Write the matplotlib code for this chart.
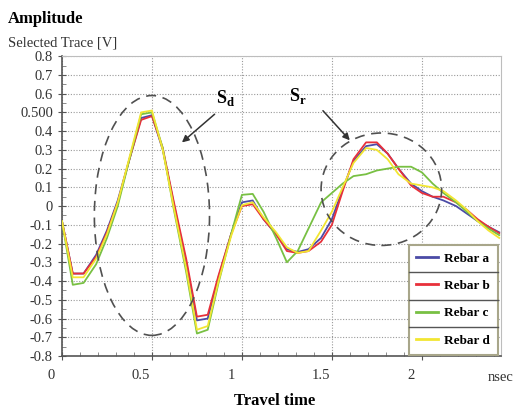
import numpy as np
import matplotlib.pyplot as plt
from matplotlib.patches import Ellipse
from matplotlib.transforms import ScaledTranslation
from matplotlib.lines import Line2D

# tiempos de viaje (nsec)
tiempo = [0, 0.06, 0.12, 0.19, 0.25, 0.31, 0.375, 0.44, 0.5, 0.56, 0.62, 0.69, 0.75, 0.81,
          0.87, 0.94, 1.0, 1.06, 1.12, 1.19, 1.25, 1.31, 1.37, 1.44, 1.5, 1.56, 1.62, 1.69,
          1.75, 1.81, 1.87, 1.94, 2.0, 2.06, 2.12, 2.19, 2.25, 2.31, 2.37, 2.43]

rebar_a = [-0.08, -0.36, -0.36, -0.26, -0.13, 0.03, 0.25, 0.47, 0.485, 0.30, 0.02, -0.30, -0.61, -0.60,
           -0.38, -0.15, 0.02, 0.03, -0.07, -0.15, -0.23, -0.245, -0.23, -0.17, -0.07, 0.09, 0.24, 0.32,
           0.33, 0.28, 0.20, 0.12, 0.08, 0.05, 0.03, 0.0, -0.04, -0.08, -0.11, -0.14]
rebar_b = [-0.08, -0.36, -0.36, -0.27, -0.14, 0.02, 0.25, 0.46, 0.48, 0.31, 0.03, -0.28, -0.59, -0.58,
           -0.37, -0.15, 0.0, 0.01, -0.07, -0.15, -0.24, -0.25, -0.24, -0.19, -0.10, 0.08, 0.25, 0.34,
           0.34, 0.28, 0.20, 0.11, 0.07, 0.05, 0.05, 0.02, -0.02, -0.07, -0.11, -0.145]
rebar_c = [-0.08, -0.42, -0.41, -0.31, -0.17, 0.0, 0.25, 0.49, 0.50, 0.31, -0.01, -0.35, -0.68, -0.66,
           -0.41, -0.15, 0.06, 0.065, -0.03, -0.17, -0.30, -0.24, -0.12, 0.02, 0.07, 0.12, 0.16, 0.17,
           0.19, 0.20, 0.21, 0.21, 0.18, 0.12, 0.07, 0.02, -0.03, -0.08, -0.12, -0.155]
rebar_d = [-0.08, -0.38, -0.38, -0.28, -0.15, 0.02, 0.26, 0.50, 0.51, 0.30, 0.0, -0.33, -0.66, -0.64,
           -0.40, -0.16, 0.005, 0.02, -0.06, -0.14, -0.22, -0.25, -0.24, -0.13, -0.03, 0.10, 0.23, 0.31,
           0.30, 0.25, 0.17, 0.12, 0.11, 0.10, 0.08, 0.03, -0.02, -0.08, -0.13, -0.17]

series = {'Rebar a': (rebar_a, '#4b4ba6'),
          'Rebar b': (rebar_b, '#e8303a'),
          'Rebar c': (rebar_c, '#78c043'),
          'Rebar d': (rebar_d, '#f2e632')}

yticks = np.round(np.arange(-0.8, 0.81, 0.1), 1)
ylabels = ['0.500' if abs(v - 0.5) < 1e-9 else ('0' if v == 0 else f'{v:.1f}') for v in yticks]
xticks = [0, 0.5, 1, 1.5, 2]
xlabels = ['0', '0.5', '1', '1.5', '2']

serif = 'Liberation Serif'
plt.rcParams['font.family'] = serif
plt.rcParams['axes.unicode_minus'] = True

fig = plt.figure(figsize=(5.27, 4.13), dpi=100)
ax = fig.add_axes([0.1176, 0.138, 0.8331, 0.726])

for nombre, (vals, col) in series.items():
    ax.plot(tiempo, vals, color=col, lw=1.3, label=nombre, zorder=3)

ax.set_xlim(0, 2.44)
ax.set_ylim(-0.8, 0.8)
ax.set_yticks(yticks)
ax.set_yticklabels(ylabels, fontsize=10.5, color='#333333')
ax.set_yticks(np.arange(-0.75, 0.8, 0.1), minor=True)
ax.set_xticks(xticks)
ax.set_xticklabels(xlabels, fontsize=10.5, color='#333333')
ax.set_xticks(np.arange(0.1, 2.44, 0.1), minor=True)
ax.tick_params(axis='both', which='major', direction='inout', length=6, width=0.8, color='#555555')
ax.tick_params(axis='both', which='minor', direction='in', length=3, width=0.6, color='#777777')
ax.tick_params(axis='x', pad=6)
ax.grid(True, which='major', linestyle=(0, (1, 1.5)), color='#9a9a9a', lw=0.8)

# etiquetas del eje x desplazadas a la izquierda
off = ScaledTranslation(-11 / 100, 0, fig.dpi_scale_trans)
for lab in ax.xaxis.get_majorticklabels():
    lab.set_transform(lab.get_transform() + off)

for s in ['top', 'right']:
    ax.spines[s].set_color('#bdbdbd')
for s in ['left', 'bottom']:
    ax.spines[s].set_color('#555555')
    ax.spines[s].set_linewidth(1.2)

# elipses
ax.add_patch(Ellipse((0.50, -0.05), 0.64, 1.28, fill=False, ls=(0, (6, 4)), lw=1.2, ec='#505050', zorder=4))
ax.add_patch(Ellipse((1.775, 0.09), 0.67, 0.60, fill=False, ls=(0, (6, 4)), lw=1.2, ec='#505050', zorder=4))

ax.annotate('', xy=(0.655, 0.33), xytext=(0.86, 0.50),
            arrowprops=dict(arrowstyle='-|>', color='#333333', lw=1.1, mutation_scale=10))
ax.annotate('', xy=(1.61, 0.34), xytext=(1.44, 0.52),
            arrowprops=dict(arrowstyle='-|>', color='#333333', lw=1.1, mutation_scale=10))
ax.text(0.91, 0.575, r'S$_\mathregular{d}$', fontsize=13, fontweight='bold', ha='center', va='center')
ax.text(1.31, 0.585, r'S$_\mathregular{r}$', fontsize=13, fontweight='bold', ha='center', va='center')

leg = ax.legend(loc='lower right', bbox_to_anchor=(0.993, 0.004), prop={'family': serif, 'weight': 'bold', 'size': 9.5},
                frameon=True, fancybox=False, edgecolor='#a8a68a', framealpha=1, borderpad=0.6,
                labelspacing=1.15, handlelength=1.6, handletextpad=0.5, borderaxespad=0)
leg.get_frame().set_linewidth(1.5)
for h in leg.get_lines():
    h.set_linewidth(2)

fig.canvas.draw()
bb = leg.get_window_extent().transformed(fig.transFigure.inverted())
for i in range(1, 4):
    y = bb.y0 + bb.height * i / 4
    fig.add_artist(Line2D([bb.x0, bb.x1], [y, y], color='#555555', lw=1.0, zorder=10))

fig.text(0.015, 0.955, 'Amplitude', fontsize=12, fontweight='bold', ha='left', va='center')
fig.text(0.015, 0.895, 'Selected Trace [V]', fontsize=10.5, ha='left', va='center', color='#333333')
fig.text(0.522, 0.03, 'Travel time', fontsize=12, fontweight='bold', ha='center', va='center')
fig.text(0.95, 0.085, 'nsec', fontsize=10.5, ha='center', va='center', color='#333333')

fig.savefig('out.png', dpi=100)
